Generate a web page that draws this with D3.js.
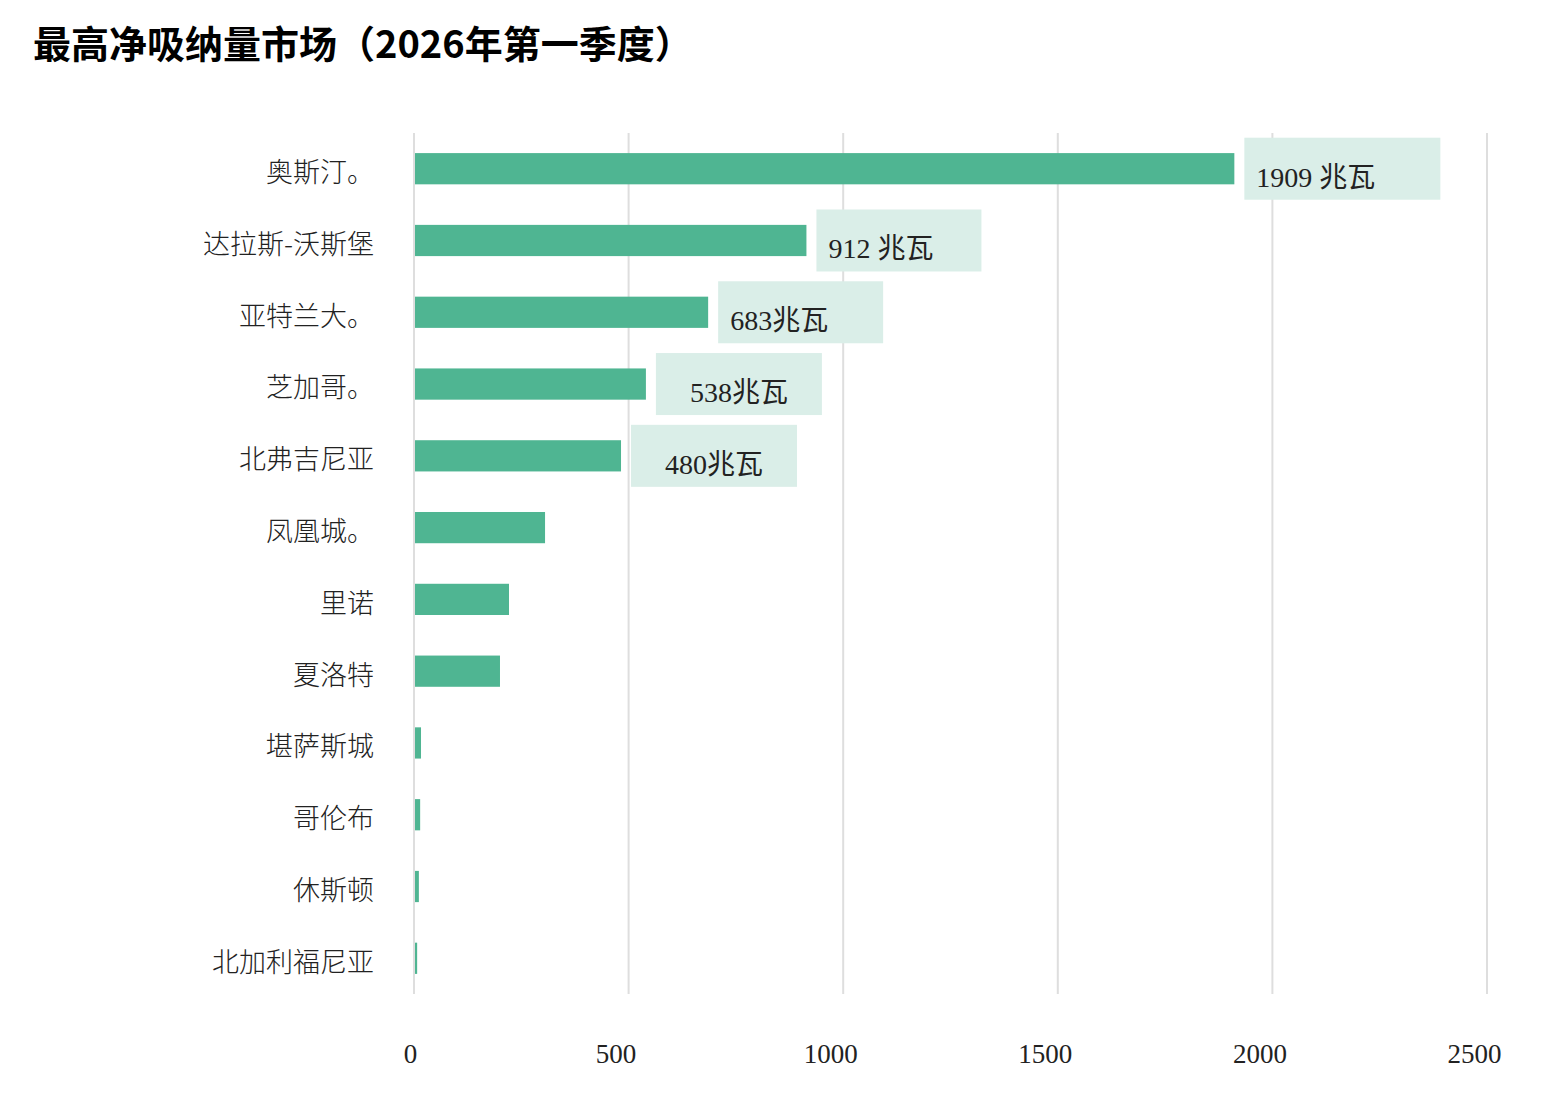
<!DOCTYPE html>
<html>
<head>
<meta charset="utf-8">
<script src="https://cdn.jsdelivr.net/npm/d3@7"></script>
<style>
  body { margin: 0; background: #fff; }
  text { fill: #222; }
</style>
</head>
<body>
<div id="chart"></div>
<script>
// markets and net absorption (MW)
const markets = ["奥斯汀。", "达拉斯-沃斯堡", "亚特兰大。", "芝加哥。", "北弗吉尼亚", "凤凰城。",
                 "里诺", "夏洛特", "堪萨斯城", "哥伦布", "休斯顿", "北加利福尼亚"];
const values = [1909, 912, 683, 538, 480, 303, 219, 198, 14, 12, 9, 5];
const valueLabels = ["1909 兆瓦", "912 兆瓦", "683兆瓦", "538兆瓦", "480兆瓦"];
const xTicks = [0, 500, 1000, 1500, 2000, 2500];

// callout styling
const labelAlign = ["start", "start", "start", "middle", "middle"];
const calloutWidths = [196, 165, 165, 166, 166];

const width = 1559;
const height = 1112;
const margin = { top: 133, right: 72, bottom: 118, left: 414 };

const data = markets.map((m, i) => ({ market: m, value: values[i] }));

const svg = d3.select("#chart").append("svg")
    .attr("width", width)
    .attr("height", height);

const x = d3.scaleLinear()
    .domain([0, 2500])
    .range([margin.left, width - margin.right]);

const y = d3.scaleBand()
    .domain(markets)
    .range([margin.top, height - margin.bottom])
    .paddingInner(0.565)
    .paddingOuter(0.28);

const labelFont = "'Liberation Serif', 'Noto Sans CJK SC', serif";

// title
svg.append("text")
    .attr("x", 33)
    .attr("y", 58)
    .style("font-family", "'Noto Sans CJK SC', sans-serif")
    .style("font-weight", 700)
    .style("font-size", "38px")
    .style("fill", "#000")
    .text("最高净吸纳量市场（2026年第一季度）");

// grid lines
svg.append("g")
    .selectAll("line")
    .data(xTicks)
    .join("line")
    .attr("x1", d => x(d))
    .attr("x2", d => x(d))
    .attr("y1", margin.top)
    .attr("y2", height - margin.bottom)
    .attr("stroke", "#dedede")
    .attr("stroke-width", 2);

// x axis
const xAxis = svg.append("g")
    .attr("transform", `translate(0,${height - 52})`)
    .call(d3.axisBottom(x).tickValues(xTicks).tickSize(0).tickFormat(d3.format("d")));
xAxis.select(".domain").remove();
xAxis.selectAll("text")
    .attr("dx", d => d === 0 ? -4 : -13)
    .attr("dy", 0)
    .style("font-family", labelFont)
    .style("font-size", "27px")
    .style("fill", "#222");

// y labels
svg.append("g")
    .selectAll("text")
    .data(markets)
    .join("text")
    .attr("x", margin.left - 40)
    .attr("y", d => y(d) + y.bandwidth() / 2 + 2)
    .attr("dy", "0.42em")
    .attr("text-anchor", "end")
    .style("font-family", "'Noto Sans CJK SC', sans-serif")
    .style("font-weight", 300)
    .style("font-size", "27px")
    .text(d => d);

// bars
svg.append("g")
    .selectAll("rect")
    .data(data)
    .join("rect")
    .attr("x", x(0) + 1)
    .attr("y", d => y(d.market))
    .attr("width", d => Math.max(1.5, x(d.value) - x(0)))
    .attr("height", y.bandwidth())
    .attr("fill", "#4fb592");

// value callouts for the top five
const callouts = svg.append("g")
    .selectAll("g")
    .data(data.slice(0, valueLabels.length))
    .join("g")
    .attr("transform", d => `translate(${x(d.value) + 11},${y(d.market) + y.bandwidth() / 2})`);

callouts.append("rect")
    .attr("y", -31)
    .attr("height", 62)
    .attr("width", (d, i) => calloutWidths[i])
    .attr("fill", "#daeee8");

callouts.append("text")
    .attr("y", 18)
    .attr("x", (d, i) => labelAlign[i] === "middle" ? calloutWidths[i] / 2 : 12)
    .attr("text-anchor", (d, i) => labelAlign[i])
    .style("font-family", labelFont)
    .style("font-size", "28px")
    .style("fill", "#222")
    .text((d, i) => valueLabels[i]);
</script>
</body>
</html>
